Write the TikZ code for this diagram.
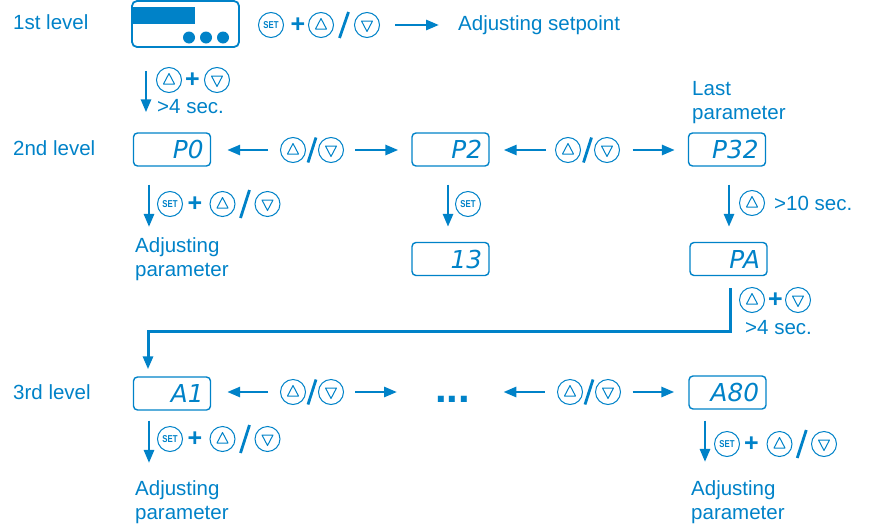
\documentclass[tikz,border=0pt]{standalone}
\usepackage{fontspec}
\setmainfont{Liberation Sans}
\newfontfamily\segfont{DejaVu Sans}
\newfontfamily\setfont[FakeStretch=0.78]{Liberation Sans}
\usetikzlibrary{arrows.meta,calc}
\definecolor{eblue}{RGB}{0,130,200}
\begin{document}
\begin{tikzpicture}[x=1pt,y=-1pt,
  lbl/.style={font=\fontsize{20.5}{24}\selectfont, text=eblue, anchor=base west, inner sep=0pt, align=left},
  disp/.style={draw=eblue, line width=1.4pt, rounded corners=4pt, minimum height=33pt,
    inner xsep=7pt, inner ysep=0pt, text width=63pt, align=right, text height=18pt, text depth=0pt,
    font=\segfont\itshape\fontsize{24.7}{25}\selectfont, text=eblue},
  key/.style={circle, draw=eblue, line width=1pt, minimum size=25pt, inner sep=0pt},
  upkey/.style={key, path picture={\draw[eblue,line width=1pt,line join=round]
      ([shift={(-5.5pt,-4pt)}]path picture bounding box.center) -- ++(11pt,0pt) -- ++(-5.5pt,10.5pt) -- cycle;}},
  downkey/.style={key, path picture={\draw[eblue,line width=1pt,line join=round]
      ([shift={(-5.5pt,4pt)}]path picture bounding box.center) -- ++(11pt,0pt) -- ++(-5.5pt,-10.5pt) -- cycle;}},
  setkey/.style={key, font=\setfont\bfseries\fontsize{10}{10}\selectfont, text=eblue},
  plus/.style={font=\bfseries\fontsize{25}{25}\selectfont, text=eblue, inner sep=0pt},
  arr/.style={draw=eblue, line width=2.8pt, -{Triangle[length=13pt,width=10pt]}},
  slashline/.style={draw=eblue, line width=2.8pt},
]
\useasboundingbox (0,0) rectangle (869,525);

% ---------- level labels
\node[lbl] (l1) at (13,29) {1st level};
\node[lbl] (l2) at (13,155) {2nd level};
\node[lbl] (l3) at (13,399) {3rd level};

% ---------- 1st level device
\node[draw=eblue, line width=1.8pt, rounded corners=5pt, minimum width=107pt, minimum height=46pt, inner sep=0pt] (dev) at (185.5,24) {};
\fill[eblue] (133,7) rectangle (195,24);
\fill[eblue] (189,37.5) circle[radius=6];
\fill[eblue] (206,37.5) circle[radius=6];
\fill[eblue] (223,37.5) circle[radius=6];

\node[setkey] (s1) at (271,25) {SET};
\node[plus] (p1) at (298,25) {+};
\node[upkey] (u1) at (321,25) {};
\node[downkey] (d1) at (367,25) {};
\draw[slashline] ($(u1)!0.5!(d1)+(4.5,-13)$) -- ($(u1)!0.5!(d1)+(-4.5,13)$);
\node[lbl] (adjsp) at (458,30) {Adjusting setpoint};
\draw[arr, shorten <=15pt, shorten >=19pt] (d1.east) -- (d1.east -| adjsp.west);

% ---------- 1st -> 2nd
\node[upkey] (u2) at (169,80) {};
\node[plus] (p2) at (192.5,80) {+};
\node[downkey] (d2) at (217,80) {};
\node[lbl] (t2) at (157,113) {>4 sec.};

% ---------- 2nd level displays
\node[disp] (P0) at (172,149.5) {P0};
\node[disp] (P2) at (450.5,149.5) {P2};
\node[disp] (P32) at (727,149.5) {P32};
\node[disp] (V13) at (450.5,259) {13};
\node[disp] (PA) at (728.5,259) {PA};
\node[lbl] (lastp) at (692,119) {Last\\parameter};

\draw[arr, shorten <=23pt, shorten >=20pt] ([xshift=-39.5pt]dev.south) -- ([xshift=-39.5pt]dev.south |- P0.north);

\node[upkey] (u3) at (293,150) {};
\node[downkey] (d3) at (331,150) {};
\draw[slashline] ($(u3)!0.5!(d3)+(4,-12.5)$) -- ($(u3)!0.5!(d3)+(-4,12.5)$);
\draw[arr, shorten <=12pt, shorten >=16pt] (u3.west) -- (u3.west -| P0.east);
\draw[arr, shorten <=11pt, shorten >=13pt] (d3.east) -- (d3.east -| P2.west);

\node[upkey] (u4) at (568,150) {};
\node[downkey] (d4) at (607,150) {};
\draw[slashline] ($(u4)!0.5!(d4)+(4,-12.5)$) -- ($(u4)!0.5!(d4)+(-4,12.5)$);
\draw[arr, shorten <=9pt, shorten >=14pt] (u4.west) -- (u4.west -| P2.east);
\draw[arr, shorten <=12.5pt, shorten >=13pt] (d4.east) -- (d4.east -| P32.west);

% under P0
\node[setkey] (s5) at (170,204) {SET};
\node[plus] (p5) at (195,204) {+};
\node[upkey] (u5) at (222.5,204) {};
\node[downkey] (d5) at (267.5,204) {};
\draw[slashline] ($(u5)!0.5!(d5)+(4.5,-14)$) -- ($(u5)!0.5!(d5)+(-4.5,14)$);
\node[lbl] (adj1) at (135,276) {Adjusting\\parameter};
\draw[arr, shorten <=18pt, shorten >=10pt] ([xshift=-23pt]P0.south) -- ([xshift=-23pt]P0.south |- adj1.north);

% under P2
\node[setkey] (s6) at (468,204) {SET};
\draw[arr, shorten <=18pt, shorten >=15pt] ([xshift=-2.5pt]P2.south) -- ([xshift=-2.5pt]P2.south |- V13.north);

% under P32
\node[upkey] (u7) at (752,203) {};
\node[lbl] (t7) at (774,210) {>10 sec.};
\draw[arr, shorten <=18pt, shorten >=15pt] ([xshift=2pt]P32.south) -- ([xshift=2pt]P32.south |- PA.north);

% PA -> A1
\node[upkey] (u8) at (752,300) {};
\node[plus] (p8) at (775.5,300) {+};
\node[downkey] (d8) at (798,300) {};
\node[lbl] (t8) at (745,334) {>4 sec.};

% ---------- 3rd level
\node[disp] (A1) at (172,393.5) {A1};
\node[disp] (A80) at (727.5,392.5) {A80};
\node[font=\bfseries\fontsize{42}{42}\selectfont, text=eblue, anchor=base west, inner sep=0pt] (dots) at (435,402) {...};

\coordinate (bend) at (148,331);
\draw[arr, line width=3pt] ([xshift=1.5pt,yshift=-12pt]PA.south) |- (bend) -- ([xshift=-24pt,yshift=7pt]A1.north);

\node[upkey] (u9) at (293,392) {};
\node[downkey] (d9) at (331,392) {};
\draw[slashline] ($(u9)!0.5!(d9)+(4,-12.5)$) -- ($(u9)!0.5!(d9)+(-4,12.5)$);
\draw[arr, shorten <=12pt, shorten >=16pt] (u9.west) -- (u9.west -| A1.east);
\draw[arr, shorten <=11pt, shorten >=38pt] (d9.east) -- (d9.east -| dots.west);

\node[upkey] (u10) at (570,392) {};
\node[downkey] (d10) at (608,392) {};
\draw[slashline] ($(u10)!0.5!(d10)+(4,-12.5)$) -- ($(u10)!0.5!(d10)+(-4,12.5)$);
\draw[arr, shorten <=12.5pt, shorten >=33pt] (u10.west) -- (u10.west -| dots.east);
\draw[arr, shorten <=11.5pt, shorten >=14pt] (d10.east) -- (d10.east -| A80.west);

% under A1
\node[setkey] (s11) at (170,439) {SET};
\node[plus] (p11) at (195,439) {+};
\node[upkey] (u11) at (222.5,439) {};
\node[downkey] (d11) at (267.5,439) {};
\draw[slashline] ($(u11)!0.5!(d11)+(4.5,-14)$) -- ($(u11)!0.5!(d11)+(-4.5,14)$);
\node[lbl] (adj3) at (135,519) {Adjusting\\parameter};
\draw[arr, shorten <=10pt, shorten >=17pt] ([xshift=-23pt]A1.south) -- ([xshift=-23pt]A1.south |- adj3.north);

% under A80
\node[setkey] (s12) at (727,444) {SET};
\node[plus] (p12) at (751.5,444) {+};
\node[upkey] (u12) at (779.5,444) {};
\node[downkey] (d12) at (824,444) {};
\draw[slashline] ($(u12)!0.5!(d12)+(4.5,-14)$) -- ($(u12)!0.5!(d12)+(-4.5,14)$);
\node[lbl] (adj4) at (691,519) {Adjusting\\parameter};
\draw[arr, shorten <=11pt, shorten >=18pt] ([xshift=-22.5pt]A80.south) -- ([xshift=-22.5pt]A80.south |- adj4.north);
\end{tikzpicture}
\end{document}
